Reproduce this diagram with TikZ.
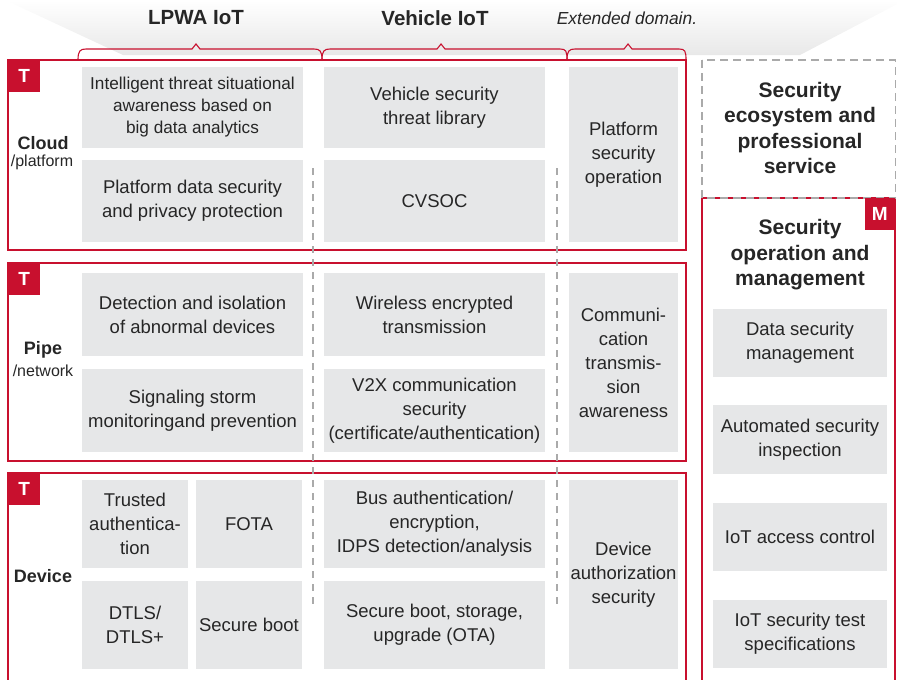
\documentclass[tikz,border=0pt]{standalone}
\usepackage{fontspec}
\setmainfont{Liberation Sans}
\usetikzlibrary{calc, positioning}

\definecolor{hwred}{RGB}{200,16,46}
\definecolor{cellgray}{RGB}{230,231,232}
\definecolor{inkgray}{RGB}{38,38,38}
\definecolor{dashgray}{RGB}{170,170,170}

\tikzset{
  cell/.style={fill=cellgray, text=inkgray, align=center, inner sep=0pt,
    font=\fontsize{18.5}{24}\selectfont},
  badge/.style={fill=hwred, text=white, inner sep=0pt, minimum height=32,
    font=\bfseries\fontsize{19}{19}\selectfont},
  layerframe/.style={draw=hwred, line width=1.2pt},
  bracket/.style={draw=hwred, line width=1.1pt},
  lanesep/.style={draw=dashgray, line width=1.3pt, dash pattern=on 7pt off 6pt},
  colhead/.style={text=inkgray, font=\bfseries\fontsize{20.5}{24}\selectfont},
  sidetitle/.style={text=inkgray, align=center, font=\bfseries\fontsize{21}{25.5}\selectfont},
  rowlab/.style={text=inkgray, inner sep=0pt, font=\bfseries\fontsize{18}{20}\selectfont},
  sublab/.style={text=inkgray, inner sep=0pt, font=\fontsize{16}{18}\selectfont},
}

\begin{document}
\begin{tikzpicture}[x=1pt, y=-1pt]
  \clip (0,0) rectangle (897,680);
  % grey fan behind the column heads
  \shade[top color=white, bottom color=gray!18] (5,0) -- (905,0) -- (800,55) -- (123,55) -- cycle;

  % column heads
  \node[colhead] (lpwa) at (196,18) {LPWA IoT};
  \node[colhead] (vehicle) at (435,18) {Vehicle IoT};
  \node[text=inkgray, font=\itshape\fontsize{17.4}{20}\selectfont] (extended) at (627,18) {Extended domain.};

  \draw[bracket] (78,60) .. controls (78,51) and (80,49) .. (86,49) -- (192,49) -- (196,44) -- (200,49)
    -- (314,49) .. controls (320,49) and (322,51) .. (322,60);
  \draw[bracket] (322,60) .. controls (322,51) and (324,49) .. (330,49) -- (437,49) -- (441,44) -- (445,49)
    -- (560,49) .. controls (566,49) and (567,51) .. (567,60);
  \draw[bracket] (567,60) .. controls (567,51) and (569,49) .. (575,49) -- (624,49) -- (628,44) -- (632,49)
    -- (679,49) .. controls (685,49) and (686,51) .. (686,60);

  % layers
  \draw[layerframe] (8,60) rectangle (686,250);
  \draw[layerframe] (8,263) rectangle (686,461);
  \draw[layerframe] (8,473) rectangle (686,700);

  \draw[lanesep] (313,168) -- (313,608);
  \draw[lanesep] (557,168) -- (557,608);

  % cloud
  \node[cell, minimum width=221, minimum height=81, font=\fontsize{17.2}{22}\selectfont] (threat) at (192.5,107.5)
    {Intelligent threat situational\\awareness based on\\big data analytics};
  \node[cell, minimum width=221, minimum height=82] (privacy) at (192.5,201) {Platform data security\\and privacy protection};
  \node[cell, minimum width=221, minimum height=81] (library) at (434.5,107.5) {Vehicle security\\threat library};
  \node[cell, minimum width=221, minimum height=82] (cvsoc) at (434.5,201) {CVSOC};
  \node[cell, minimum width=109, minimum height=175] (platop) at (623.5,154.5) {Platform\\security\\operation};
  \node[badge, minimum width=32, anchor=north west] (tcloud) at (8,60) {T};
  \node[rowlab] (cloud) at (43,143) {Cloud};
  \node[sublab] (platform) at (42,162) {/platform};

  % pipe
  \node[cell, minimum width=221, minimum height=83] (isolate) at (192.5,314.5) {Detection and isolation\\of abnormal devices};
  \node[cell, minimum width=221, minimum height=83] (storm) at (192.5,410.5) {Signaling storm\\monitoringand prevention};
  \node[cell, minimum width=221, minimum height=83] (wireless) at (434.5,314.5) {Wireless encrypted\\transmission};
  \node[cell, minimum width=221, minimum height=83] (v2x) at (434.5,410.5) {V2X communication\\security\\(certificate/authentication)};
  \node[cell, minimum width=109, minimum height=179] (commaware) at (623.5,362.5) {Communi-\\cation\\transmis-\\sion\\awareness};
  \node[badge, minimum width=32, anchor=north west] (tpipe) at (8,263) {T};
  \node[rowlab] (pipe) at (43,350) {Pipe};
  \node[sublab] (network) at (43,371) {/network};

  % device
  \node[cell, minimum width=106, minimum height=88] (trusted) at (135,524) {Trusted\\authentica-\\tion};
  \node[cell, minimum width=106, minimum height=88] (fota) at (249,524) {FOTA};
  \node[cell, minimum width=106, minimum height=88] (dtls) at (135,625) {DTLS/\\DTLS+};
  \node[cell, minimum width=106, minimum height=88] (sboot) at (249,625) {Secure boot};
  \node[cell, minimum width=221, minimum height=88] (busauth) at (434.5,524) {Bus authentication/\\encryption,\\IDPS detection/analysis};
  \node[cell, minimum width=221, minimum height=88] (storage) at (434.5,625) {Secure boot, storage,\\upgrade (OTA)};
  \node[cell, minimum width=109, minimum height=189] (devauth) at (623.5,574.5) {Device\\authorization\\security};
  \node[badge, minimum width=32, anchor=north west] (tdevice) at (8,473) {T};
  \node[rowlab] (device) at (43,576) {Device};

  % right side
  \draw[layerframe] (702,198) rectangle (895,700);
  \draw[draw=dashgray, line width=1.2pt, dash pattern=on 8pt off 5pt] (702,60) rectangle (895.5,198);
  \node[sidetitle] (ecosys) at (800,128) {Security\\ecosystem and\\professional\\service};
  \node[sidetitle] (opmgmt) at (800,255) {Security\\operation and\\management};
  \node[badge, minimum width=30, anchor=north east] (mbadge) at (895,198) {M};
  \node[cell, minimum width=174, minimum height=68] (datasec) at (800,343) {Data security\\management};
  \node[cell, minimum width=174, minimum height=69] (inspect) at (800,439.5) {Automated security\\inspection};
  \node[cell, minimum width=174, minimum height=68] (access) at (800,537) {IoT access control};
  \node[cell, minimum width=174, minimum height=68] (testspec) at (800,634) {IoT security test\\specifications};
\end{tikzpicture}
\end{document}
